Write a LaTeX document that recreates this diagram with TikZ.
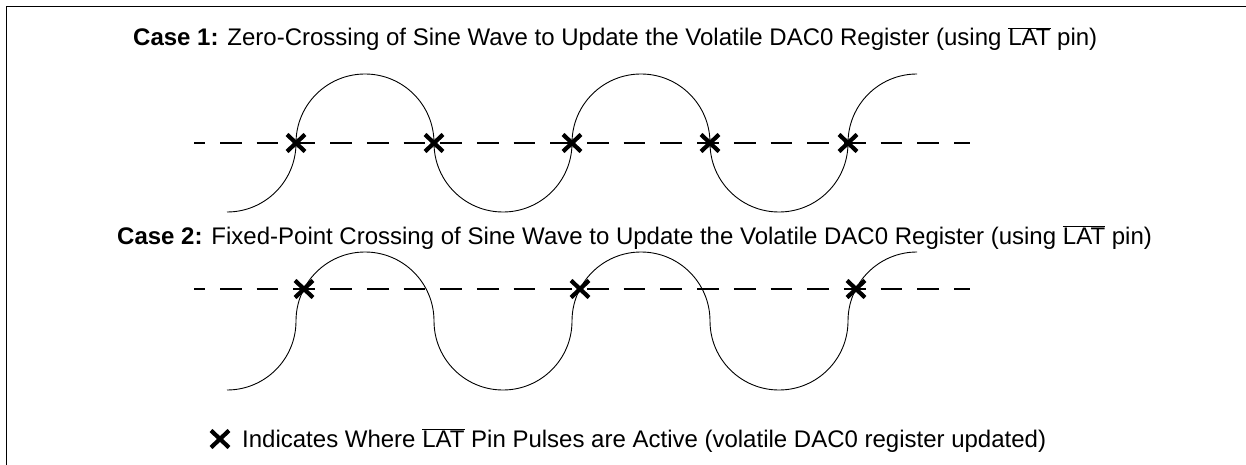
\documentclass[tikz,border=0pt]{standalone}
\usepackage{fontspec}
\setmainfont{Liberation Sans}
\usetikzlibrary{positioning}

\newcommand{\notlat}{$\overline{\hbox{LAT}}$}

\begin{document}
\begin{tikzpicture}[x=1pt, y=-1pt,
    every node/.style={font=\fontsize{24}{28}\selectfont, inner sep=0pt},
    frame/.style={line width=1.6pt},
    wave/.style={line width=0.9pt},
    axis/.style={line width=2.4pt, dash pattern=on 21.7pt off 15pt, dash phase=10.7pt},
    xmark/.style={line width=4.2pt},
    cross/.pic={\draw[xmark] (-9,-8.5) -- (9,8.5) (-9,8.5) -- (9,-8.5);},
]
\useasboundingbox (0,0) rectangle (1246,465);
\def\R{69}

% frame, only top and left edge in view
\draw[frame] (6.5,465) -- (6.5,6.5) -- (1246,6.5);

% case 1: zero crossing
\node[anchor=base west] (title1) at (133,46)
    {\textbf{Case 1:} Zero-Crossing of Sine Wave to Update the Volatile DAC0 Register (using \notlat{} pin)};
\draw[axis] (194,143) -- (970,143);
\draw[wave] (227,212) arc (90:0:\R) arc (180:360:\R) arc (180:0:\R)
    arc (180:360:\R) arc (180:0:\R) arc (180:270:\R);
\foreach \x in {296,434,572,710,848}{
    \pic at (\x,143) {cross};
}

% case 2: fixed point crossing
\node[anchor=base west] (title2) at (117,244)
    {\textbf{Case 2:} Fixed-Point Crossing of Sine Wave to Update the Volatile DAC0 Register (using \notlat{} pin)};
\draw[axis] (194,289) -- (970,289);
\draw[wave] (227,390) arc (90:0:\R) arc (180:360:\R) arc (180:0:\R)
    arc (180:360:\R) arc (180:0:\R) arc (180:270:\R);
\foreach \x in {304,580,856}{
    \pic at (\x,289) {cross};
}

% legend
\pic at (220,439) {cross};
\node[anchor=base west] (legend) at (242,447)
    {Indicates Where \notlat{} Pin Pulses are Active (volatile DAC0 register updated)};
\end{tikzpicture}
\end{document}
